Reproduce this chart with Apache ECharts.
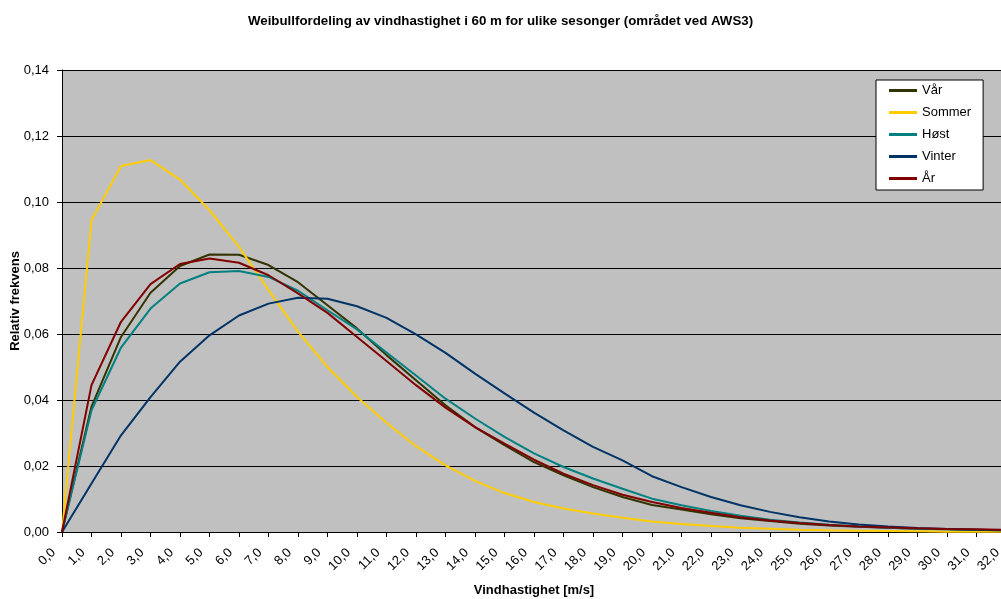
<!DOCTYPE html>
<html>
<head>
<meta charset="utf-8">
<script src="https://cdn.jsdelivr.net/npm/echarts@6/dist/echarts.min.js"></script>
<style>html,body{margin:0;padding:0;background:#fff;}#c{width:1001px;height:599px;}</style>
</head>
<body>
<div id="c"></div>
<script>
const categories = ["0,0","1,0","2,0","3,0","4,0","5,0","6,0","7,0","8,0","9,0","10,0","11,0","12,0","13,0","14,0","15,0","16,0","17,0","18,0","19,0","20,0","21,0","22,0","23,0","24,0","25,0","26,0","27,0","28,0","29,0","30,0","31,0","32,0"];
const var_ = [0,0.0380,0.0591,0.0725,0.0806,0.0841,0.0840,0.0809,0.0757,0.0687,0.0617,0.0536,0.0460,0.0384,0.0318,0.0263,0.0212,0.0172,0.0136,0.0106,0.0082,0.0068,0.0054,0.0042,0.0033,0.0025,0.0020,0.0016,0.0013,0.0010,0.0008,0.0006,0.0005];
const sommer = [0,0.0945,0.1109,0.1127,0.1068,0.0975,0.0864,0.0733,0.0607,0.0500,0.0409,0.0331,0.0260,0.0202,0.0155,0.0118,0.0091,0.0071,0.0056,0.0043,0.0032,0.0024,0.0018,0.0013,0.0010,0.0007,0.0005,0.0004,0.0003,0.0002,0.0001,0.0001,0.0001];
const host = [0,0.0369,0.0559,0.0677,0.0753,0.0787,0.0791,0.0773,0.0731,0.0672,0.0614,0.0544,0.0474,0.0404,0.0344,0.0288,0.0238,0.0197,0.0162,0.0131,0.0101,0.0081,0.0064,0.0049,0.0037,0.0029,0.0022,0.0017,0.0013,0.0010,0.0008,0.0006,0.0005];
const vinter = [0,0.0147,0.0293,0.0409,0.0516,0.0596,0.0656,0.0692,0.0710,0.0707,0.0684,0.0649,0.0599,0.0543,0.0480,0.0420,0.0362,0.0308,0.0258,0.0217,0.0169,0.0136,0.0106,0.0081,0.0061,0.0045,0.0032,0.0023,0.0017,0.0012,0.0009,0.0007,0.0005];
const ar = [0,0.0445,0.0637,0.0751,0.0812,0.0829,0.0816,0.0778,0.0723,0.0664,0.0591,0.0518,0.0445,0.0377,0.0318,0.0268,0.0219,0.0177,0.0142,0.0113,0.0091,0.0073,0.0058,0.0045,0.0035,0.0027,0.0021,0.0017,0.0014,0.0011,0.0009,0.0008,0.0007];
const seriesNames = ["Vår","Sommer","Høst","Vinter","År"];
const seriesColors = ["#333300","#FFCC00","#008080","#003366","#800000"];
const seriesData = [var_, sommer, host, vinter, ar];

const chart = echarts.init(document.getElementById('c'), null, {renderer:'canvas'});
const font = '"Liberation Sans", Arial, sans-serif';
chart.setOption({
  animation: false,
  backgroundColor: '#ffffff',
  title: {
    text: 'Weibullfordeling av vindhastighet i 60 m for ulike sesonger (området ved AWS3)',
    left: 'center', top: 10,
    textStyle: {fontFamily: font, fontSize: 13.3, fontWeight: 'bold', color: '#000'}
  },
  legend: {
    orient: 'vertical', left: 876, top: 80,
    backgroundColor: '#ffffff', borderColor: '#000', borderWidth: 1,
    padding: [4, 12, 5, 13], itemGap: 9, itemWidth: 28, itemHeight: 3, icon: 'rect',
    textStyle: {fontFamily: font, fontSize: 13, color: '#000'},
    data: seriesNames
  },
  grid: {left: 62, top: 70, bottom: 67, right: -5, outerBoundsMode: 'none', containLabel: false,
    show: true, backgroundColor: '#C0C0C0', borderWidth: 0},
  xAxis: {
    type: 'category', data: categories, boundaryGap: false,
    name: 'Vindhastighet [m/s]', nameLocation: 'middle', nameGap: 52, nameMoveOverlap: false,
    nameTextStyle: {fontFamily: font, fontSize: 13, fontWeight: 'bold', color: '#000'},
    axisLine: {lineStyle: {color: '#000', width: 1}},
    axisTick: {show: true, alignWithLabel: true, length: 5, lineStyle: {color: '#000'}},
    axisLabel: {rotate: 45, interval: 0, margin: 10, padding: [0, 12, 0, 0], fontFamily: font, fontSize: 13, color: '#000'},
    splitLine: {show: false}
  },
  yAxis: {
    type: 'value', min: 0, max: 0.14, interval: 0.02,
    name: 'Relativ frekvens', nameLocation: 'middle', nameGap: 40, nameRotate: 90, nameMoveOverlap: false,
    nameTextStyle: {fontFamily: font, fontSize: 13, fontWeight: 'bold', color: '#000'},
    axisLine: {show: true, lineStyle: {color: '#000', width: 1}},
    axisTick: {show: true, length: 5, lineStyle: {color: '#000'}},
    axisLabel: {fontFamily: font, fontSize: 13, color: '#000', margin: 13,
      formatter: v => v.toFixed(2).replace('.', ',')},
    splitLine: {show: true, lineStyle: {color: '#000', width: 1}}
  },
  series: seriesNames.map((n, i) => ({
    name: n, type: 'line', data: seriesData[i], symbol: 'none', smooth: false,
    lineStyle: {color: seriesColors[i], width: 2}, itemStyle: {color: seriesColors[i]}
  }))
});
</script>
</body>
</html>
